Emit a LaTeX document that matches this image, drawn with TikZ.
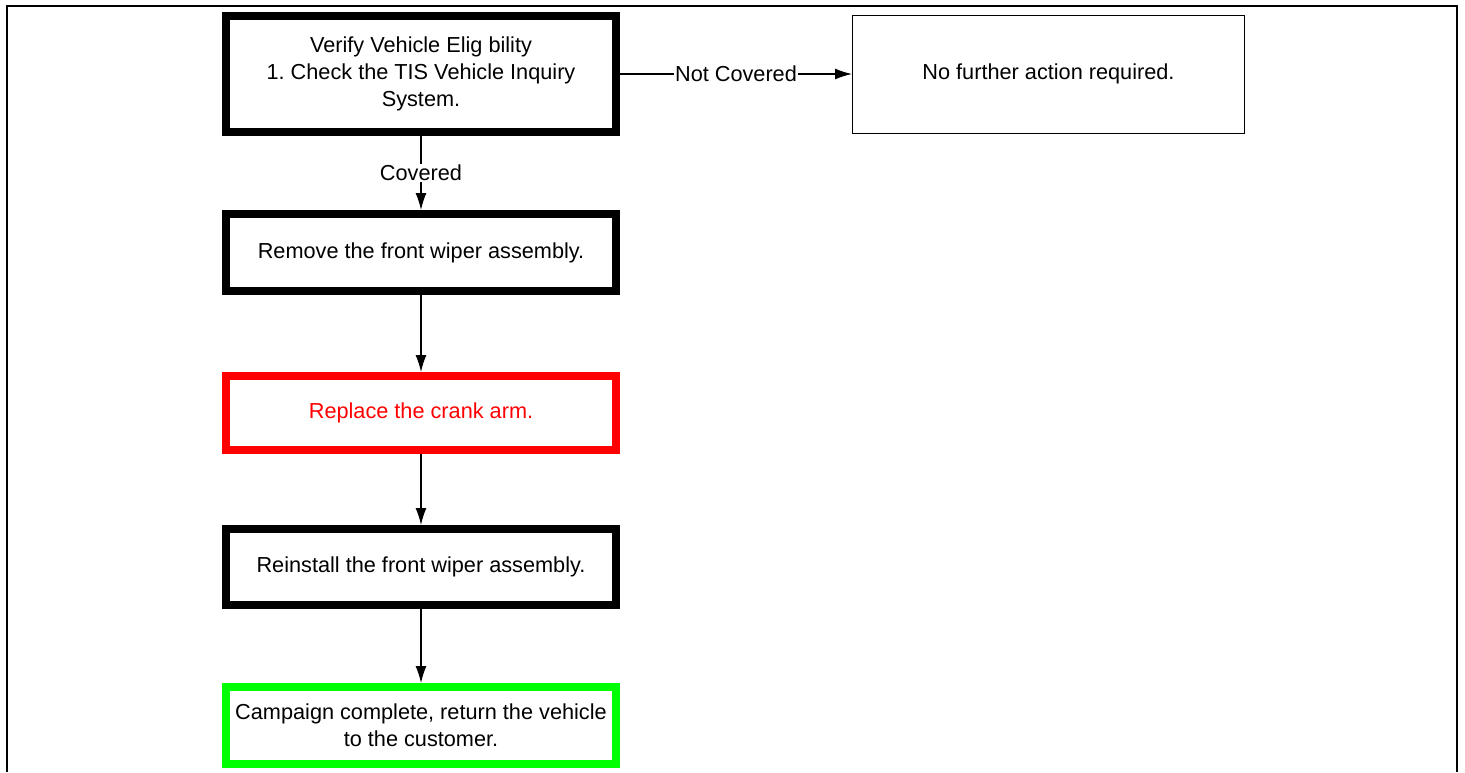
\documentclass[tikz,border=0pt]{standalone}
\usepackage{fontspec}
\setmainfont{Liberation Sans}
\usetikzlibrary{arrows.meta}
\usetikzlibrary{positioning}
\definecolor{boxred}{RGB}{255,0,0}
\definecolor{boxgreen}{RGB}{0,255,0}
\frenchspacing

\begin{document}
\begin{tikzpicture}[x=1pt, y=-1pt, node distance = 74pt, font=\fontsize{21.7}{27}\selectfont]
          \tikzstyle{stepbox}=[rectangle, draw=black, line width=8pt, minimum width=390pt, minimum height=77pt, align=center, inner sep=0pt]
          \tikzstyle{flow}=[line width=1.3pt, -{Latex[length=17pt,width=11pt]}]
          \tikzstyle{flowlabel}=[fill=white, inner sep=1pt]
          \useasboundingbox (0,0) rectangle (1465,772);
          % page frame, open at the bottom
          \draw[line width=1.6pt] (7,772) -- (7,6) -- (1457,6) -- (1457,772);
          \node[stepbox, minimum height=116pt] (V) at (421,74) {Verify Vehicle Elig bility\\1. Check the TIS Vehicle Inquiry\\System.};
          \node[rectangle, draw, line width=1pt, minimum width=392pt, minimum height=118pt] (NF) [right=232pt of V] {No further action required.};
          \node[stepbox] (R) [below=of V] {Remove the front wiper assembly.};
          \node[stepbox, draw=boxred, text=boxred, minimum height=74pt] (C) [below=77pt of R] {Replace the crank arm.};
          \node[stepbox, minimum height=76pt] (I) [below=71pt of C] {Reinstall the front wiper assembly.};
          \node[stepbox, draw=boxgreen] (D) [below=of I] {Campaign complete, return the vehicle\\to the customer.};
          \draw[flow] (V) -- node[flowlabel] {Not Covered} (NF);
          \draw[flow] (V) -- node[flowlabel] {Covered} (R);
          \draw[flow] (R) -- (C);
          \draw[flow] (C) -- (I);
          \draw[flow] (I) -- (D);
        \end{tikzpicture}
\end{document}
